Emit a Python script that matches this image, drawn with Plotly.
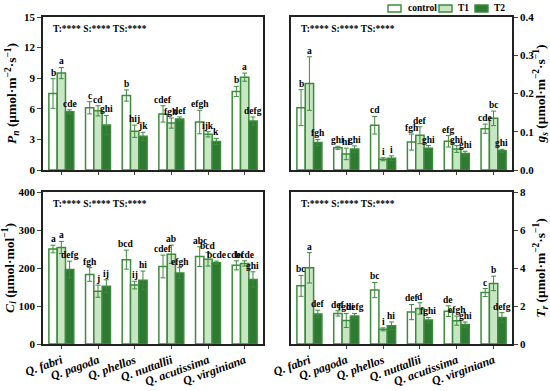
import plotly.graph_objects as go
from plotly.subplots import make_subplots

species = ["Q. fabri", "Q. pagoda", "Q. phellos", "Q. nuttallii", "Q. acutissima", "Q. virginiana"]
treatments = ["control", "T1", "T2"]

# Pn
pn_control = [7.5, 6.1, 7.3, 5.5, 4.7, 7.7]
pn_t1 = [9.5, 5.8, 3.8, 4.6, 3.5, 9.1]
pn_t2 = [5.7, 4.4, 3.3, 5.0, 2.8, 4.8]
pn_control_err = [1.45, 0.6, 0.55, 0.8, 1.15, 0.5]
pn_t1_err = [0.55, 0.5, 0.6, 0.5, 0.26, 0.4]
pn_t2_err = [0.2, 0.95, 0.4, 0.2, 0.3, 0.4]
pn_control_lab = ["b", "c", "b", "cdef", "efgh", "b"]
pn_t1_lab = ["a", "cd", "hij", "fgh", "ijk", "a"]
pn_t2_lab = ["cde", "ghi", "jk", "def", "k", "defg"]

# gs
gs_control = [0.163, 0.058, 0.117, 0.073, 0.075, 0.108]
gs_t1 = [0.226, 0.042, 0.028, 0.091, 0.055, 0.135]
gs_t2 = [0.072, 0.055, 0.031, 0.057, 0.043, 0.050]
gs_control_err = [0.047, 0.004, 0.023, 0.021, 0.015, 0.012]
gs_t1_err = [0.070, 0.015, 0.004, 0.022, 0.009, 0.019]
gs_t2_err = [0.008, 0.008, 0.006, 0.007, 0.006, 0.004]
gs_control_lab = ["b", "ghi", "cd", "fgh", "efg", "cde"]
gs_t1_lab = ["a", "hi", "i", "def", "ghi", "bc"]
gs_t2_lab = ["fgh", "ghi", "i", "ghi", "ghi", "ghi"]

# Ci
ci_control = [250, 183, 222, 204, 230, 207]
ci_t1 = [254, 139, 155, 236, 223, 212]
ci_t2 = [196, 152, 168, 187, 214, 170]
ci_control_err = [10, 18, 25, 30, 26, 12]
ci_t1_err = [16, 16, 10, 24, 18, 7]
ci_t2_err = [22, 17, 24, 14, 4, 20]
ci_control_lab = ["a", "fgh", "bcd", "cdef", "abc", "cdef"]
ci_t1_lab = ["a", "j", "ij", "ab", "bcd", "bcde"]
ci_t2_lab = ["defg", "ij", "hi", "efgh", "bcde", "ghi"]

# Tr
tr_control = [3.06, 1.61, 2.84, 1.68, 1.73, 2.71]
tr_t1 = [4.01, 1.24, 0.77, 1.87, 1.23, 3.19]
tr_t2 = [1.58, 1.47, 0.96, 1.26, 1.02, 1.40]
tr_control_err = [0.55, 0.14, 0.40, 0.40, 0.28, 0.21]
tr_t1_err = [0.80, 0.37, 0.08, 0.30, 0.24, 0.38]
tr_t2_err = [0.20, 0.14, 0.20, 0.14, 0.14, 0.25]
tr_control_lab = ["bc", "def", "bc", "def", "de", "c"]
tr_t1_lab = ["a", "fghi", "i", "d", "efgh", "b"]
tr_t2_lab = ["def", "defg", "hi", "fghi", "ghi", "defg"]

stat_text = "T:**** S:**** TS:****"

GREEN = "#3d8b3d"
FILLS = ["#ffffff", "#c8e6c3", "#2e7a32"]
FONT = "Liberation Serif, Times New Roman, serif"
BARGAP = 0.32

panels = [
    dict(row=1, col=1,
         vals=[pn_control, pn_t1, pn_t2], errs=[pn_control_err, pn_t1_err, pn_t2_err],
         labs=[pn_control_lab, pn_t1_lab, pn_t2_lab],
         yrange=[0, 15], dtick=3, fmt="d", side="left",
         title="<i>P</i><sub><i>n</i></sub> (μmol·m<sup>−2</sup>·s<sup>−1</sup>)"),
    dict(row=1, col=2,
         vals=[gs_control, gs_t1, gs_t2], errs=[gs_control_err, gs_t1_err, gs_t2_err],
         labs=[gs_control_lab, gs_t1_lab, gs_t2_lab],
         yrange=[0, 0.4], dtick=0.1, fmt=".1f", side="right",
         title="<i>g</i><sub><i>s</i></sub> (μmol·m<sup>−2</sup>·s<sup>−1</sup>)"),
    dict(row=2, col=1,
         vals=[ci_control, ci_t1, ci_t2], errs=[ci_control_err, ci_t1_err, ci_t2_err],
         labs=[ci_control_lab, ci_t1_lab, ci_t2_lab],
         yrange=[0, 400], dtick=100, fmt="d", side="left",
         title="<i>C</i><sub><i>i</i></sub> (μmol·mol<sup>−1</sup>)"),
    dict(row=2, col=2,
         vals=[tr_control, tr_t1, tr_t2], errs=[tr_control_err, tr_t1_err, tr_t2_err],
         labs=[tr_control_lab, tr_t1_lab, tr_t2_lab],
         yrange=[0, 8], dtick=2, fmt="d", side="right",
         title="<i>T</i><sub><i>r</i></sub> (μmol·m<sup>−2</sup>·s<sup>−1</sup>)"),
]

fig = make_subplots(rows=2, cols=2)
xpos = list(range(len(species)))
bar_w = (1 - BARGAP) / 3

W, H = 550, 391
def px(x):
    return x / W
def py(y):
    return 1 - y / H

xdom = {1: [px(43), px(263)], 2: [px(291), px(512)]}
ydom = {1: [py(170), py(17)], 2: [py(344), py(192)]}

for p_i, p in enumerate(panels):
    r, c = p["row"], p["col"]
    for k, t in enumerate(treatments):
        fig.add_trace(go.Bar(
            x=xpos, y=p["vals"][k], name=t,
            marker=dict(color=FILLS[k], line=dict(color=GREEN, width=1.5)),
            error_y=dict(type="data", array=p["errs"][k], color=GREEN, thickness=1, width=2.5),
            showlegend=False,
        ), row=r, col=c)
        for i in xpos:
            fig.add_annotation(
                x=i + (k - 1) * bar_w, y=p["vals"][k][i] + p["errs"][k][i],
                text=p["labs"][k][i], showarrow=False, yanchor="bottom", yshift=-1,
                font=dict(family=FONT, size=9.5, color="black", weight="bold"),
                row=r, col=c)
    xref_n = "" if p_i == 0 else str(p_i + 1)
    fig.add_annotation(
        x=0.035, y=0.97, xref=f"x{xref_n} domain", yref=f"y{xref_n} domain",
        text=stat_text, showarrow=False, xanchor="left", yanchor="top",
        font=dict(family=FONT, size=9.5, color="black", weight="bold"))
    fig.update_xaxes(
        domain=xdom[c], range=[-0.5, 5.5], tickmode="array", tickvals=xpos, ticktext=species,
        showticklabels=(r == 2), tickangle=-20, ticks="outside", ticklen=3, tickwidth=1,
        showline=True, linecolor="#222", linewidth=1.5, mirror=True, showgrid=False,
        zeroline=False, automargin=False,
        tickfont=dict(family=FONT, size=12, color="black", weight="bold", style="italic"),
        row=r, col=c)
    fig.update_yaxes(
        domain=ydom[r], range=p["yrange"], dtick=p["dtick"], tickformat=p["fmt"],
        side=p["side"], ticks="outside", ticklen=4, tickwidth=1,
        showline=True, linecolor="#222", linewidth=1.5, mirror=True, showgrid=False,
        zeroline=False, automargin=False,
        tickfont=dict(family=FONT, size=11, color="black", weight="bold"),
        title=dict(text=p["title"], standoff=(4 if p["side"] == "left" else 12),
                   font=dict(family=FONT, size=13.5, color="black", weight="bold")),
        row=r, col=c)

# legend (drawn as boxes + labels above the top-right panel)
legend_box_x = [388, 439, 475]
legend_text_x = [406, 456, 492]
for k, t in enumerate(treatments):
    fig.add_shape(type="rect", xref="paper", yref="paper",
                  x0=px(legend_box_x[k]), x1=px(legend_box_x[k] + 13),
                  y0=py(12), y1=py(5),
                  fillcolor=FILLS[k], line=dict(color=GREEN, width=1.4))
    fig.add_annotation(x=px(legend_text_x[k]), y=py(8.5), xref="paper", yref="paper",
                       text=t, showarrow=False, xanchor="left", yanchor="middle",
                       font=dict(family=FONT, size=9.5, color="black", weight="bold"))

fig.update_layout(
    width=W, height=H, barmode="group", bargap=BARGAP, bargroupgap=0,
    margin=dict(l=0, r=0, t=0, b=0, autoexpand=False),
    plot_bgcolor="white", paper_bgcolor="white", showlegend=False,
)

fig.write_html("out.html", config={"displayModeBar": False},
               post_script="document.body.style.margin='0';")
